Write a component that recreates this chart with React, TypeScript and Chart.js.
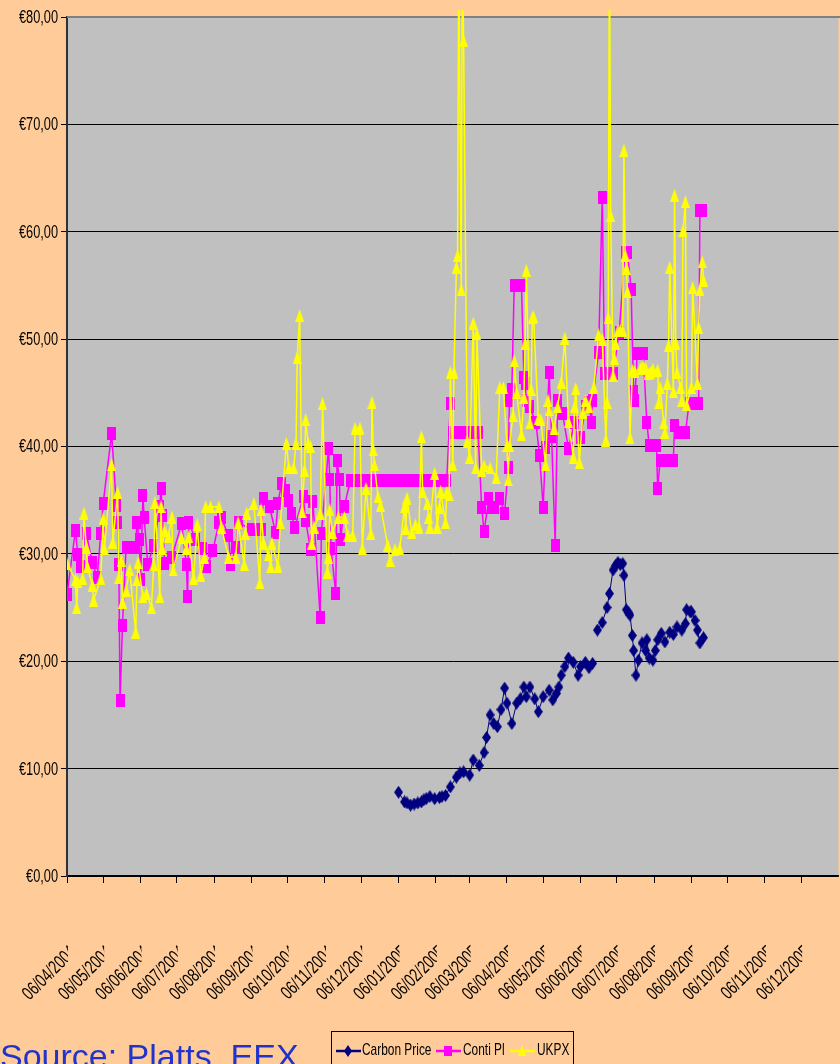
import React, { useEffect, useRef } from "react";
import { Chart, registerables } from "chart.js";

Chart.register(...registerables);

// ---------- data ----------
// x values are calendar days since 06/04/2004
const START_DATE = "2004-04-06";
const END_DATE = "2006-01-06";

const xTickDates = [
  "2004-04-06", "2004-05-06", "2004-06-06", "2004-07-06", "2004-08-06", "2004-09-06",
  "2004-10-06", "2004-11-06", "2004-12-06", "2005-01-06", "2005-02-06", "2005-03-06",
  "2005-04-06", "2005-05-06", "2005-06-06", "2005-07-06", "2005-08-06", "2005-09-06",
  "2005-10-06", "2005-11-06", "2005-12-06",
];
// labels as printed (the chart truncates them after "20..")
const xTickLabels = [
  "06/04/2004", "06/05/2004", "06/06/2004", "06/07/2004", "06/08/2004", "06/09/2004",
  "06/10/2004", "06/11/2004", "06/12/2004", "06/01/2005", "06/02/2005", "06/03/2005",
  "06/04/2005", "06/05/2005", "06/06/2005", "06/07/2005", "06/08/2005", "06/09/2005",
  "06/10/2005", "06/11/2005", "06/12/2005",
];

const Y_MIN = 0;
const Y_MAX = 80;
const Y_STEP = 10;

const seriesNames = ["Carbon Price", "Conti Pl", "UKPX"];
const sourceNote = "Source: Platts, EEX";

const carbonDays = [
  275, 280, 282, 285, 288, 291, 294, 296, 298, 301,
  305, 309, 311, 314, 318, 323, 326, 329, 334, 337,
  342, 346, 348, 351, 354, 357, 360, 363, 365, 369,
  373, 376, 379, 381, 384, 388, 391, 395, 400, 403,
  406, 408, 410, 413, 416, 420, 424, 426, 430, 433,
  436, 438, 440, 444, 448, 450, 453, 455, 457, 459,
  461, 462, 464, 466, 467, 469, 470, 472, 474, 477,
  480, 481, 483, 486, 488, 490, 493, 496, 500, 503,
  506, 510, 513, 514, 517, 518, 521, 523, 525, 528,
];
const carbonPrice = [
  7.8, 6.9, 6.8, 6.6, 6.7, 6.8, 6.9, 7.1, 7.2, 7.4,
  7.2, 7.3, 7.4, 7.5, 8.3, 9.2, 9.6, 9.7, 9.4, 10.8,
  10.3, 11.5, 12.9, 15.0, 14.2, 13.9, 15.5, 17.5, 16.1, 14.2,
  16.1, 16.5, 17.6, 16.7, 17.6, 16.5, 15.3, 16.7, 17.3, 16.4,
  17.0, 17.6, 18.7, 19.5, 20.3, 19.9, 18.7, 19.5, 19.9, 19.4,
  19.8, null, 22.9, 23.6, 25.0, 26.3, 28.5, 28.9, 29.2, 29.0,
  29.1, 28.0, 24.8, 24.5, 24.3, 22.4, 21.0, 18.7, 20.1, 21.7,
  21.0, 22.0, 20.3, 20.1, 21.0, 22.0, 22.6, 21.8, 22.7, 22.5,
  23.2, 22.9, 23.5, 24.8, 24.6, 24.6, 23.8, 22.9, 21.7, 22.2,
];

const contiDays = [
  0, 7, 9, 11, 16, 21, 25, 28, 30, 37,
  41, 42, 43, 44, 46, 49, 51, 53, 55, 57,
  58, 60, 61, 63, 64, 67, 72, 77, 78, 79,
  81, 87, 95, 99, 100, 101, 107, 112, 116, 121,
  126, 128, 134, 136, 140, 142, 153, 156, 159, 161,
  163, 168, 173, 175, 178, 181, 184, 186, 189, 196,
  198, 202, 204, 210, 211, 217, 218, 219, 223, 224,
  226, 227, 230, 235, 239, 243, 247, 251, 255, 259,
  263, 267, 271, 275, 279, 283, 287, 291, 295, 299,
  303, 307, 311, 315, 318, 320, 323, 326, 329, 332,
  335, 338, 341, 344, 346, 350, 352, 355, 359, 363,
  366, 367, 369, 371, 374, 377, 379, 380, 381, 384,
  389, 392, 395, 397, 400, 402, 405, 407, 411, 416,
  421, 426, 430, 433, 435, 436, 441, 444, 446, 449,
  453, 458, 463, 465, 468, 470, 471, 473, 476, 478,
  481, 483, 486, 489, 490, 492, 496, 500, 503, 504,
  507, 510, 513, 516, 519, 522, 524, 525, 527,
];
const contiPrice = [
  26.2, 32.2, 29.9, 28.8, 31.9, 29.2, 27.8, 31.9, 34.7, 41.2,
  34.5, 32.9, 29.0, 16.3, 23.3, 30.6, 30.6, 30.6, 30.6, 30.6,
  32.9, 31.3, 27.6, 35.4, 33.4, 29.0, 30.8, 34.4, 36.1, 33.6,
  29.1, 29.7, 32.8, 29.0, 26.0, 32.9, 31.3, 30.5, 28.8, 30.3,
  32.9, 33.4, 31.7, 29.0, 30.6, 32.9, 32.3, 32.3, 32.3, 32.3,
  35.2, 34.4, 32.0, 34.7, 36.6, 35.9, 35.0, 33.8, 32.5, 35.3,
  33.1, 30.4, 34.9, 24.1, 31.9, 39.8, 36.9, 30.5, 26.3, 38.7,
  36.9, 31.3, 34.4, 36.8, 36.8, 36.8, 36.8, 36.8, 36.8, 36.8,
  36.8, 36.8, 36.8, 36.8, 36.8, 36.8, 36.8, 36.8, 36.8, 36.8,
  36.8, 36.8, 36.8, 36.8, 44.0, 41.3, 41.3, 41.3, 41.3, 41.3,
  41.3, 41.3, 41.3, 34.3, 32.1, 35.2, 34.3, 34.3, 35.2, 33.8,
  38.0, 44.3, 45.3, 55.0, 55.0, 55.0, 46.4, 45.9, 44.3, 43.7,
  42.2, 39.2, 34.3, 39.9, 46.9, 40.9, 30.8, 44.3, 43.1, 39.8,
  42.2, 40.8, 43.7, 44.1, 42.2, 44.3, 48.8, 63.2, 46.8, 46.8,
  46.8, 50.6, 58.1, 58.1, 54.6, 45.1, 44.3, 48.7, 48.7, 48.7,
  42.2, 40.1, 40.1, 40.1, 36.1, 38.7, 38.7, 38.7, 38.7, 42.0,
  41.3, 41.3, 41.3, 44.0, 44.0, 44.0, 44.0, 62.0, 62.0,
];

const ukpxDays = [
  0, 7, 8, 9, 13, 14, 16, 17, 21, 22,
  28, 30, 31, 37, 38, 42, 43, 45, 46, 49,
  52, 57, 58, 59, 63, 66, 70, 72, 73, 77,
  78, 79, 81, 84, 87, 88, 95, 99, 101, 105,
  108, 111, 114, 115, 119, 126, 128, 134, 140, 142,
  147, 148, 149, 155, 160, 161, 163, 167, 169, 170,
  175, 177, 182, 184, 188, 190, 191, 193, 195, 197,
  198, 200, 202, 203, 205, 210, 212, 216, 217, 218,
  220, 225, 230, 233, 237, 239, 243, 245, 248, 252,
  253, 254, 255, 258, 260, 266, 268, 272, 276, 280,
  281, 282, 286, 289, 292, 294, 295, 299, 300, 301,
  305, 307, 309, 310, 314, 315, 317, 318, 320, 321,
  323, 324, 325, 327, 328, 329, 332, 334, 337, 339,
  340, 344, 346, 351, 356, 359, 362, 365, 366, 367,
  370, 371, 373, 377, 379, 380, 381, 384, 385, 386,
  387, 391, 393, 397, 399, 400, 404, 407, 410, 413,
  416, 420, 421, 422, 425, 428, 430, 433, 437, 441,
  444, 447, 448, 449, 450, 451, 453, 454, 455, 457,
  459, 461, 462, 463, 464, 465, 467, 469, 471, 476,
  478, 480, 482, 484, 486, 490, 491, 492, 495, 496,
  498, 499, 500, 503, 504, 505, 506, 509, 510, 511,
  513, 514, 518, 519, 523, 524, 525, 527, 528,
];
const ukpxPrice = [
  29.1, 27.6, 25.0, 27.4, 27.7, 33.8, 30.6, 28.8, 27.1, 25.7,
  27.7, 33.3, 30.5, 38.3, 31.1, 35.7, 27.8, 29.4, 25.5, 26.6,
  28.5, 22.7, 27.6, 29.2, 26.0, 26.3, 25.0, 29.0, 34.8, 26.0,
  34.4, 30.5, 32.2, 31.6, 33.4, 28.5, 31.5, 30.5, 31.6, 27.7,
  32.7, 28.0, 29.7, 34.4, 34.4, 34.4, 32.5, 29.7, 29.7, 32.9,
  29.0, 31.9, 33.8, 34.7, 27.3, 34.1, 31.0, 29.9, 28.8, 31.0,
  28.8, 32.9, 40.3, 38.0, 38.0, 40.3, 48.3, 52.2, 33.9, 37.8,
  42.5, 40.3, 40.0, 31.0, 32.5, 33.8, 44.0, 28.3, 29.7, 34.1,
  32.0, 33.4, 33.4, 31.7, 31.7, 41.7, 41.7, 30.5, 36.1, 31.9,
  44.1, 39.7, 38.3, 35.3, 34.5, 30.8, 29.4, 30.4, 30.5, 34.4,
  32.4, 35.2, 32.0, 32.7, 32.5, 40.9, 35.8, 34.7, 33.4, 32.5,
  37.5, 32.5, 34.3, 35.8, 32.9, 35.7, 35.5, 46.9, 38.3, 46.9,
  56.7, 57.8, 88.0, 54.6, 88.0, 77.8, 40.5, 39.0, 51.5, 38.0,
  50.5, 37.8, 38.2, 38.0, 37.1, 45.5, 45.5, 40.1, 36.9, 40.1,
  42.9, 48.0, 45.0, 41.1, 44.6, 49.6, 56.4, 42.2, 45.3, 52.0,
  52.1, 42.6, 42.5, 38.3, 44.3, 43.4, 41.7, 43.7, 46.0, 50.1,
  42.3, 39.0, 43.7, 45.4, 38.5, 43.2, 44.3, 43.7, 45.5, 50.4,
  50.0, 40.6, 44.1, 52.0, 88.0, 61.5, 46.6, 48.2, 49.6, 50.8,
  50.8, 50.8, 67.6, 57.8, 56.6, 54.4, 40.8, 47.1, 47.0, 47.3,
  47.5, 47.3, 46.8, 46.9, 47.2, 47.1, 44.1, 45.5, 42.2, 41.3,
  45.9, 49.4, 56.7, 45.1, 63.4, 49.6, 46.9, 45.5, 44.3, 60.1,
  62.8, 43.9, 45.5, 54.8, 45.9, 51.1, 54.6, 57.2, 55.5,
];

// ---------- styling ----------
const PAGE_BG = "#FFCC99";
const PLOT_BG = "#C0C0C0";
const COLORS = ["#000080", "#FF00FF", "#FFFF00"];
const MARKERS = ["diamond", "square", "triangle"];
const SANS = '"Liberation Sans", Arial, sans-serif';

const DAY_MS = 86400000;
const dayOf = (d: string) =>
  (Date.parse(d + "T00:00:00Z") - Date.parse(START_DATE + "T00:00:00Z")) / DAY_MS;

function makeMarker(shape: string, color: string, w: number, h: number) {
  const c = document.createElement("canvas");
  c.width = w;
  c.height = h;
  const g = c.getContext("2d")!;
  g.fillStyle = color;
  g.beginPath();
  if (shape === "square") {
    g.rect(0, 0, w, h);
  } else if (shape === "diamond") {
    g.moveTo(w / 2, 0);
    g.lineTo(w, h / 2);
    g.lineTo(w / 2, h);
    g.lineTo(0, h / 2);
    g.closePath();
  } else {
    g.moveTo(w / 2, 0);
    g.lineTo(w, h);
    g.lineTo(0, h);
    g.closePath();
  }
  g.fill();
  return c;
}

const zip = (xs: number[], ys: (number | null)[]) => xs.map((x, i) => ({ x, y: ys[i] }));

const plotFrame = {
  id: "plotFrame",
  beforeDraw(chart: any) {
    const { ctx, chartArea: a } = chart;
    ctx.save();
    ctx.fillStyle = PLOT_BG;
    ctx.fillRect(a.left, a.top, a.right - a.left, a.bottom - a.top);
    ctx.restore();
  },
  beforeDatasetsDraw(chart: any) {
    const { ctx, chartArea: a } = chart;
    ctx.save();
    ctx.strokeStyle = "#808080";
    ctx.lineWidth = 2;
    ctx.beginPath();
    ctx.moveTo(a.left, a.top);
    ctx.lineTo(a.right + 2, a.top);
    ctx.stroke();
    ctx.restore();
  },
};

// Draws the axes' own tick labels in the condensed look of the original
const condensedTickLabels = {
  id: "condensedTickLabels",
  afterDraw(chart: any) {
    const { ctx } = chart;
    const ys = chart.scales.y;
    const xs = chart.scales.x;
    ctx.save();
    ctx.fillStyle = "#000";

    // y axis
    ctx.font = `18px ${SANS}`;
    ctx.textAlign = "right";
    ctx.textBaseline = "middle";
    ys.ticks.forEach((t: any) => {
      const py = ys.getPixelForValue(t.value);
      ctx.save();
      ctx.translate(ys.right - 9, py + 1);
      ctx.scale(0.71, 1);
      ctx.fillText(String(t.label), 0, 0);
      ctx.restore();
    });

    // x axis (rotated, cut off at the tick like the original)
    ctx.font = `19px ${SANS}`;
    ctx.textAlign = "left";
    ctx.textBaseline = "middle";
    const ang = Math.PI / 4;
    const sx = 0.71;
    xs.ticks.forEach((t: any) => {
      const px = xs.getPixelForValue(t.value);
      const label = String(t.label);
      const visW = ctx.measureText(label.slice(0, 8)).width;
      ctx.save();
      ctx.beginPath();
      ctx.rect(px - 120, xs.top, 121, 300);
      ctx.clip();
      ctx.translate(px - 4, 960);
      ctx.rotate(-ang);
      ctx.scale(sx, 1);
      ctx.fillText(label, -visW, 0);
      ctx.restore();
    });
    ctx.restore();
  },
};

function LegendIcon({ i }: { i: number }) {
  const c = COLORS[i];
  const m = MARKERS[i];
  let marker: any;
  if (m === "diamond") marker = <polygon points="12,1 16,7 12,13 8,7" fill={c} />;
  else if (m === "square") marker = <rect x="8" y="2" width="8" height="10" fill={c} />;
  else marker = <polygon points="12,1 16,12 8,12" fill={c} />;
  return (
    <svg width="25" height="14" style={{ display: "block" }}>
      <line x1="0" y1="7" x2="25" y2="7" stroke={c} strokeWidth="2.5" />
      {marker}
    </svg>
  );
}

export default function App() {
  const canvasRef = useRef<HTMLCanvasElement | null>(null);

  useEffect(() => {
    const canvas = canvasRef.current;
    if (!canvas) return;
    const markerImgs = MARKERS.map((m, i) => makeMarker(m, COLORS[i], 9, 13));
    const tickDays = xTickDates.map(dayOf);
    const seriesData = [
      zip(carbonDays, carbonPrice),
      zip(contiDays, contiPrice),
      zip(ukpxDays, ukpxPrice),
    ];
    const drawOrder = [2, 1, 0];

    const chart = new Chart(canvas, {
      type: "line",
      data: {
        datasets: seriesNames.map((name, i) => ({
          label: name,
          data: seriesData[i] as any,
          borderColor: COLORS[i],
          backgroundColor: COLORS[i],
          borderWidth: i === 0 ? 1 : 1.5,
          pointStyle: markerImgs[i] as any,
          pointRadius: 5,
          pointHoverRadius: 5,
          tension: 0,
          spanGaps: false,
          fill: false,
          order: drawOrder[i],
          clip: { left: 0, right: 0, top: 7, bottom: 0 } as any,
        })),
      },
      options: {
        responsive: false,
        animation: false,
        devicePixelRatio: 1,
        layout: { padding: { top: 17, left: 0, right: 0, bottom: 0 } },
        plugins: {
          legend: { display: false },
          tooltip: { enabled: false },
        },
        scales: {
          x: {
            type: "linear",
            min: 0,
            max: dayOf(END_DATE),
            afterBuildTicks: (scale: any) => {
              scale.ticks = tickDays.map((v) => ({ value: v }));
            },
            afterFit: (scale: any) => {
              scale.height = 188;
              scale.paddingLeft = 0;
              scale.paddingRight = 0;
            },
            grid: {
              drawOnChartArea: false,
              drawTicks: true,
              tickLength: 7,
              color: "#000",
              lineWidth: 1,
            },
            border: { display: true, color: "#000", width: 1.5 },
            ticks: {
              autoSkip: false,
              maxRotation: 45,
              minRotation: 45,
              padding: 60,
              color: "rgba(0,0,0,0)",
              font: { family: SANS, size: 12 },
              callback: (_v: any, idx: number) => xTickLabels[idx],
            },
          },
          y: {
            type: "linear",
            min: Y_MIN,
            max: Y_MAX,
            afterFit: (scale: any) => {
              scale.width = 67;
              scale.paddingTop = 0;
              scale.paddingBottom = 0;
            },
            grid: {
              color: "#000",
              lineWidth: 1,
              drawTicks: true,
              tickLength: 6,
            },
            border: { display: true, color: "#303030", width: 2 },
            ticks: {
              stepSize: Y_STEP,
              padding: 3,
              color: "rgba(0,0,0,0)",
              font: { family: SANS, size: 12 },
              callback: (v: any) => "€" + Number(v).toFixed(2).replace(".", ","),
            },
          },
        },
      },
      plugins: [plotFrame, condensedTickLabels],
    });
    return () => chart.destroy();
  }, []);

  const legendLeft = 331;
  const iconX = [4, 104, 178];
  const textX = [30, 131, 205];

  return (
    <div
      style={{
        position: "fixed",
        left: 0,
        top: 0,
        width: 840,
        height: 1064,
        overflow: "hidden",
        background: PAGE_BG,
      }}
    >
      <canvas
        ref={canvasRef}
        width={845}
        height={1064}
        style={{ position: "absolute", left: 0, top: 0, width: 845, height: 1064 }}
      />
      <div
        style={{
          position: "absolute",
          left: 0,
          top: 1036,
          fontFamily: SANS,
          fontSize: 34,
          lineHeight: "40px",
          color: "#2233CC",
          whiteSpace: "nowrap",
        }}
      >
        {sourceNote}
      </div>
      <div
        style={{
          position: "absolute",
          left: legendLeft,
          top: 1031,
          width: 243,
          height: 42,
          border: "1px solid #000",
          boxSizing: "border-box",
          background: PAGE_BG,
        }}
      >
        {seriesNames.map((n, i) => (
          <React.Fragment key={n}>
            <div style={{ position: "absolute", left: iconX[i], top: 12 }}>
              <LegendIcon i={i} />
            </div>
            <div
              style={{
                position: "absolute",
                left: textX[i],
                top: 8,
                fontFamily: SANS,
                fontSize: 17,
                lineHeight: "20px",
                color: "#000",
                whiteSpace: "nowrap",
                transform: "scaleX(0.7)",
                transformOrigin: "0 0",
              }}
            >
              {n}
            </div>
          </React.Fragment>
        ))}
      </div>
    </div>
  );
}
